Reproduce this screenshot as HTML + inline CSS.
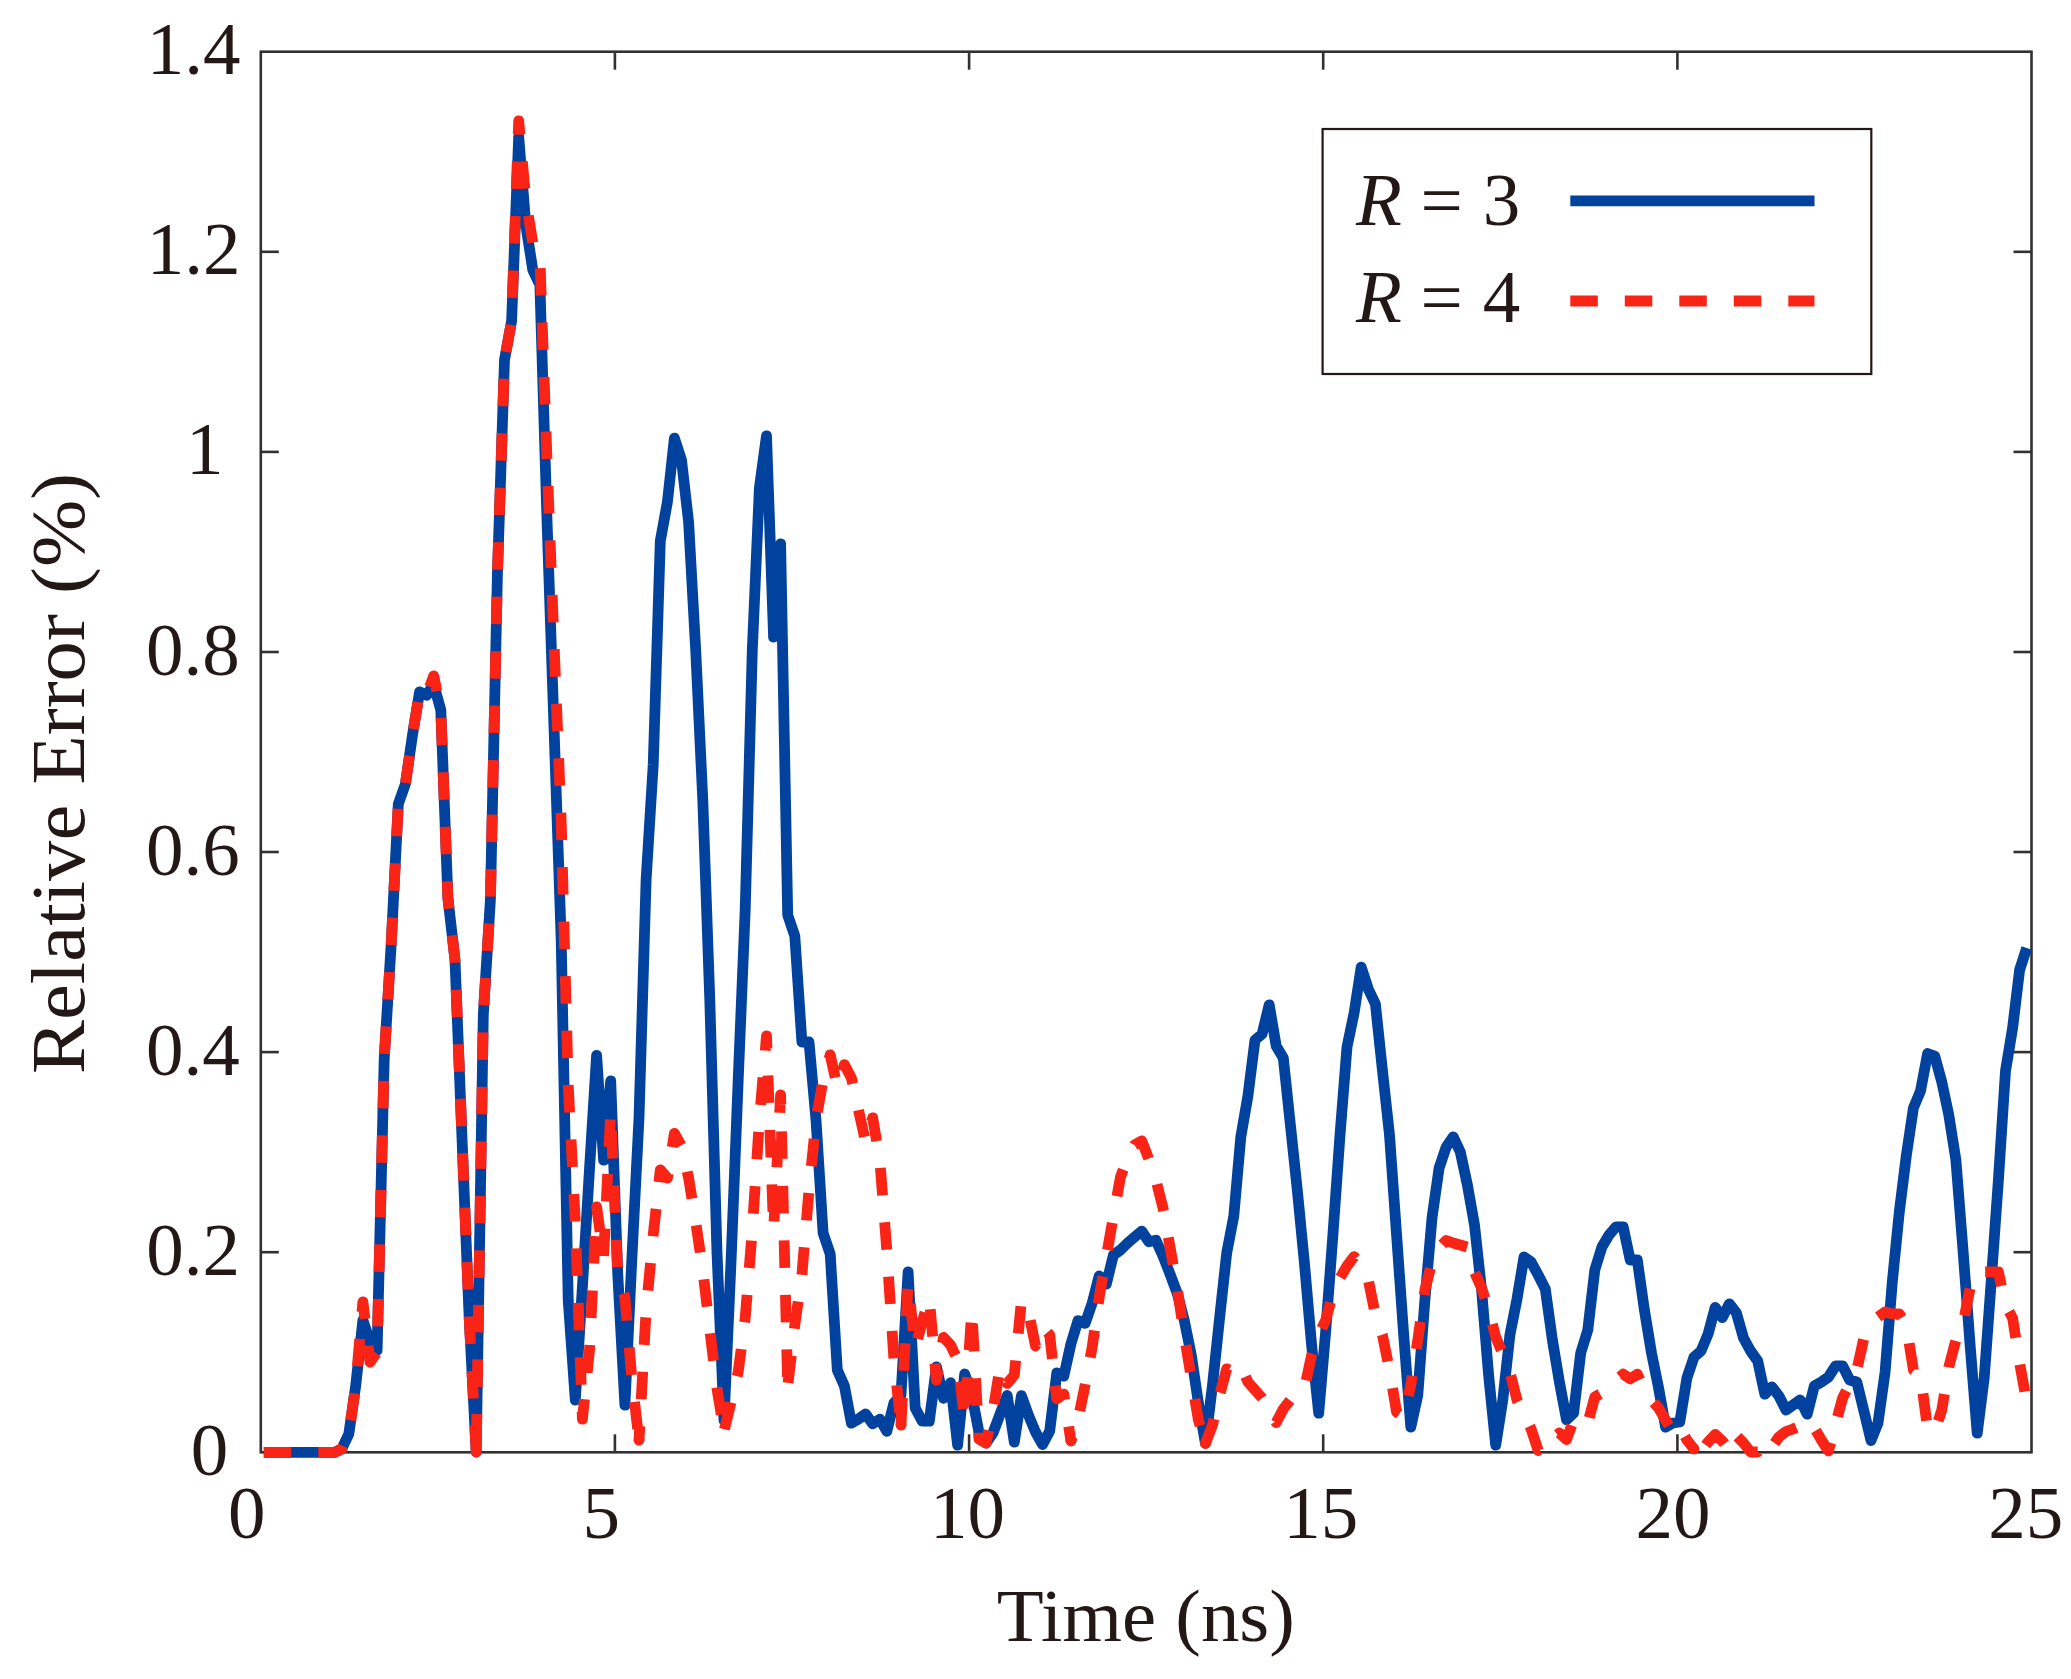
<!DOCTYPE html>
<html><head><meta charset="utf-8"><title>Relative Error vs Time</title>
<style>
html,body{margin:0;padding:0;background:#fff;}
svg{display:block;}
text{font-family:"Liberation Serif","Times New Roman",serif;font-size:75px;fill:#231815;}
.it{font-style:italic;}
</style></head><body>
<svg width="2071" height="1679" viewBox="0 0 2071 1679">
<rect x="0" y="0" width="2071" height="1679" fill="#fff"/>
<g stroke="#333130" stroke-width="2.6" fill="none">
<rect x="260.8" y="51.7" width="1770.7" height="1400.6"/>
<line x1="614.9" y1="1452.3" x2="614.9" y2="1434.3"/>
<line x1="614.9" y1="51.7" x2="614.9" y2="69.7"/>
<line x1="969.1" y1="1452.3" x2="969.1" y2="1434.3"/>
<line x1="969.1" y1="51.7" x2="969.1" y2="69.7"/>
<line x1="1323.2" y1="1452.3" x2="1323.2" y2="1434.3"/>
<line x1="1323.2" y1="51.7" x2="1323.2" y2="69.7"/>
<line x1="1677.4" y1="1452.3" x2="1677.4" y2="1434.3"/>
<line x1="1677.4" y1="51.7" x2="1677.4" y2="69.7"/>
<line x1="260.8" y1="1252.2" x2="278.8" y2="1252.2"/>
<line x1="2031.5" y1="1252.2" x2="2013.5" y2="1252.2"/>
<line x1="260.8" y1="1052.1" x2="278.8" y2="1052.1"/>
<line x1="2031.5" y1="1052.1" x2="2013.5" y2="1052.1"/>
<line x1="260.8" y1="852.0" x2="278.8" y2="852.0"/>
<line x1="2031.5" y1="852.0" x2="2013.5" y2="852.0"/>
<line x1="260.8" y1="652.0" x2="278.8" y2="652.0"/>
<line x1="2031.5" y1="652.0" x2="2013.5" y2="652.0"/>
<line x1="260.8" y1="451.9" x2="278.8" y2="451.9"/>
<line x1="2031.5" y1="451.9" x2="2013.5" y2="451.9"/>
<line x1="260.8" y1="251.8" x2="278.8" y2="251.8"/>
<line x1="2031.5" y1="251.8" x2="2013.5" y2="251.8"/>
</g>
<polyline fill="none" stroke="#00429e" stroke-width="10.8" stroke-linejoin="round" stroke-linecap="butt" points="263.8,1452.3 270.9,1452.3 278.0,1452.3 285.0,1452.3 292.1,1452.3 299.2,1452.3 306.3,1452.3 313.4,1452.3 320.4,1452.3 327.5,1452.3 334.6,1452.3 341.7,1449.0 348.8,1434.0 355.8,1385.0 362.9,1320.2 370.0,1342.0 377.1,1350.4 384.2,1059.0 391.2,944.0 398.3,804.0 405.4,784.0 412.5,735.0 419.6,691.8 426.6,695.2 433.7,684.2 440.8,710.0 447.9,898.0 455.0,960.0 462.0,1138.0 469.1,1316.0 476.2,1452.0 483.3,1015.0 490.4,900.0 497.4,575.0 504.5,360.0 511.6,321.0 518.7,136.8 525.8,225.0 532.8,270.0 539.9,285.0 547.0,520.0 554.1,730.0 561.2,940.0 568.2,1300.0 575.3,1400.2 582.4,1287.0 589.5,1169.0 596.6,1055.3 603.6,1160.2 610.7,1080.8 617.8,1275.0 624.9,1405.2 632.0,1256.0 639.0,1118.0 646.1,880.0 653.2,765.0 660.3,541.0 667.4,502.0 674.4,438.2 681.5,460.0 688.6,522.0 695.7,650.0 702.8,800.0 709.8,1000.0 716.9,1250.0 724.0,1420.2 731.1,1260.0 738.2,1080.0 745.2,910.0 752.3,650.0 759.4,488.0 766.5,435.8 773.6,637.2 780.6,543.8 787.7,915.0 794.8,936.0 801.9,1042.0 809.0,1042.0 816.0,1120.0 823.1,1233.0 830.2,1254.0 837.3,1370.0 844.4,1386.0 851.4,1423.2 858.5,1419.0 865.6,1414.0 872.7,1423.9 879.8,1419.1 886.8,1431.4 893.9,1403.0 901.0,1395.0 908.1,1271.8 915.2,1408.0 922.2,1421.2 929.3,1421.2 936.4,1366.8 943.5,1398.3 950.6,1382.7 957.6,1445.2 964.7,1374.0 971.8,1395.0 978.9,1432.0 986.0,1443.1 993.0,1433.0 1000.1,1414.0 1007.2,1395.5 1014.3,1442.2 1021.4,1395.7 1028.4,1415.0 1035.5,1432.0 1042.6,1444.6 1049.7,1431.0 1056.8,1372.8 1063.8,1376.2 1070.9,1344.0 1078.0,1320.6 1085.1,1323.4 1092.2,1303.0 1099.2,1275.9 1106.3,1284.1 1113.4,1255.0 1120.5,1250.0 1127.6,1243.0 1134.6,1237.0 1141.7,1231.1 1148.8,1241.7 1155.9,1240.3 1163.0,1256.0 1170.0,1274.0 1177.1,1293.0 1184.2,1320.0 1191.3,1355.0 1198.4,1403.0 1205.4,1443.2 1212.5,1385.0 1219.6,1318.0 1226.7,1253.0 1233.8,1216.0 1240.8,1137.0 1247.9,1096.0 1255.0,1040.0 1262.1,1034.0 1269.2,1004.8 1276.2,1046.0 1283.3,1058.0 1290.4,1125.0 1297.5,1192.0 1304.6,1265.0 1311.6,1345.0 1318.7,1413.2 1325.8,1330.0 1332.9,1235.0 1340.0,1135.0 1347.0,1047.0 1354.1,1013.0 1361.2,967.2 1368.3,989.0 1375.4,1004.0 1382.4,1070.0 1389.5,1135.0 1396.6,1235.0 1403.7,1335.0 1410.8,1427.2 1417.8,1395.0 1424.9,1300.0 1432.0,1218.0 1439.1,1168.0 1446.2,1147.0 1453.2,1136.9 1460.3,1152.0 1467.4,1185.0 1474.5,1225.0 1481.6,1290.0 1488.6,1375.0 1495.7,1445.2 1502.8,1400.0 1509.9,1335.0 1517.0,1299.0 1524.0,1257.0 1531.1,1262.0 1538.2,1275.0 1545.3,1289.0 1552.4,1340.0 1559.4,1382.0 1566.5,1419.7 1573.6,1413.0 1580.7,1353.0 1587.8,1330.0 1594.8,1270.0 1601.9,1247.0 1609.0,1235.0 1616.1,1226.8 1623.2,1226.8 1630.2,1260.0 1637.3,1260.0 1644.4,1310.0 1651.5,1353.0 1658.6,1388.0 1665.6,1427.2 1672.7,1423.0 1679.8,1422.0 1686.9,1378.0 1694.0,1357.0 1701.0,1351.0 1708.1,1334.0 1715.2,1307.4 1722.3,1317.6 1729.4,1303.8 1736.4,1313.0 1743.5,1338.0 1750.6,1351.0 1757.7,1361.0 1764.8,1394.2 1771.8,1386.8 1778.9,1396.0 1786.0,1410.0 1793.1,1405.0 1800.2,1400.0 1807.2,1414.1 1814.3,1386.0 1821.4,1382.0 1828.5,1377.0 1835.6,1365.8 1842.6,1365.8 1849.7,1380.0 1856.8,1382.0 1863.9,1411.0 1871.0,1440.6 1878.0,1423.0 1885.1,1372.0 1892.2,1283.0 1899.3,1212.0 1906.4,1155.0 1913.4,1108.0 1920.5,1091.0 1927.6,1053.5 1934.7,1056.0 1941.8,1082.0 1948.8,1115.0 1955.9,1160.0 1963.0,1250.0 1970.1,1345.0 1977.2,1433.2 1984.2,1378.0 1991.3,1280.0 1998.4,1180.0 2005.5,1071.0 2012.6,1028.0 2019.6,970.0 2026.7,948.0"/>
<polyline fill="none" stroke="#fa2416" stroke-width="10.8" stroke-linejoin="round" stroke-linecap="butt" stroke-dasharray="27.5 27" stroke-dashoffset="0.0" points="263.8,1452.3 270.9,1452.3 278.0,1452.3 285.0,1452.3 292.1,1452.3 299.2,1452.3 306.3,1452.3 313.4,1452.3 320.4,1452.3 327.5,1452.3 334.6,1452.3 341.7,1449.0 348.8,1434.0 355.8,1385.0 362.9,1301.8 370.0,1362.1 377.1,1352.0 384.2,1059.0 391.2,944.0 398.3,804.0 405.4,784.0 412.5,735.0 419.6,691.8 426.6,695.2 433.7,675.8 440.8,710.0 447.9,898.0 455.0,960.0 462.0,1138.0 469.1,1316.0 476.2,1452.0"/>
<circle cx="476.2" cy="1452.0" r="5.4" fill="#fa2416"/>
<polyline fill="none" stroke="#fa2416" stroke-width="10.8" stroke-linejoin="round" stroke-linecap="butt" stroke-dasharray="27.5 27" stroke-dashoffset="43.8" points="476.2,1452.0 483.3,1015.0 490.4,900.0 497.4,575.0 504.5,360.0 511.6,321.0 518.7,120.8 525.8,200.0 532.8,243.0 539.9,258.0 547.0,460.0 554.1,645.0 561.2,822.0 568.2,1085.0 575.3,1222.0 582.4,1419.2 589.5,1350.0 596.6,1206.8 603.6,1257.2 610.7,1111.8 617.8,1275.0 624.9,1297.0 632.0,1380.0 639.0,1440.2"/>
<circle cx="639.0" cy="1440.2" r="5.4" fill="#fa2416"/>
<polyline fill="none" stroke="#fa2416" stroke-width="10.8" stroke-linejoin="round" stroke-linecap="butt" stroke-dasharray="27.5 27" stroke-dashoffset="13.5" points="639.0,1440.2 646.1,1310.0 653.2,1235.0 660.3,1169.9 667.4,1178.1 674.4,1133.4 681.5,1146.0 688.6,1178.0 695.7,1222.0 702.8,1270.0 709.8,1330.0 716.9,1388.0 724.0,1431.2"/>
<polyline fill="none" stroke="#fa2416" stroke-width="10.8" stroke-linejoin="round" stroke-linecap="butt" stroke-dasharray="27.5 27" stroke-dashoffset="52.5" points="724.0,1431.2 731.1,1402.0 738.2,1372.0 745.2,1318.0 752.3,1230.0 759.4,1120.0 766.5,1035.8 773.6,1230.2 780.6,1094.8 787.7,1386.2"/>
<polyline fill="none" stroke="#fa2416" stroke-width="10.8" stroke-linejoin="round" stroke-linecap="butt" stroke-dasharray="27.5 27" stroke-dashoffset="51.1" points="787.7,1386.2 794.8,1325.0 801.9,1275.0 809.0,1190.0 816.0,1120.0 823.1,1080.0 830.2,1054.8 837.3,1087.2 844.4,1064.6 851.4,1078.0 858.5,1110.0 865.6,1142.2 872.7,1117.8 879.8,1160.0 886.8,1250.0 893.9,1359.0 901.0,1425.2"/>
<circle cx="901.0" cy="1425.2" r="5.4" fill="#fa2416"/>
<polyline fill="none" stroke="#fa2416" stroke-width="10.8" stroke-linejoin="round" stroke-linecap="butt" stroke-dasharray="27.5 27" stroke-dashoffset="0.0" points="901.0,1425.2 908.1,1282.8 915.2,1348.2 922.2,1322.0 929.3,1297.6 936.4,1380.2 943.5,1337.4 950.6,1345.0 957.6,1360.0 964.7,1420.2 971.8,1309.8 978.9,1439.0 986.0,1443.2 993.0,1411.0 1000.1,1366.5 1007.2,1383.4 1014.3,1375.0 1021.4,1300.9 1028.4,1311.0 1035.5,1346.0 1042.6,1326.6 1049.7,1335.0 1056.8,1398.9 1063.8,1394.1 1070.9,1441.0"/>
<circle cx="1070.9" cy="1441.0" r="5.4" fill="#fa2416"/>
<polyline fill="none" stroke="#fa2416" stroke-width="10.8" stroke-linejoin="round" stroke-linecap="butt" stroke-dasharray="27.5 27" stroke-dashoffset="23.2" points="1070.9,1441.0 1078.0,1420.0 1085.1,1385.0 1092.2,1347.0 1099.2,1297.0 1106.3,1257.0 1113.4,1216.0 1120.5,1177.0 1127.6,1158.0 1134.6,1145.0 1141.7,1140.8 1148.8,1159.0 1155.9,1180.0 1163.0,1208.0 1170.0,1247.0 1177.1,1287.0 1184.2,1335.0 1191.3,1378.0 1198.4,1420.0 1205.4,1443.5"/>
<circle cx="1205.4" cy="1443.5" r="5.4" fill="#fa2416"/>
<polyline fill="none" stroke="#fa2416" stroke-width="10.8" stroke-linejoin="round" stroke-linecap="butt" stroke-dasharray="27.5 27" stroke-dashoffset="1.5" points="1205.4,1443.5 1212.5,1425.0 1219.6,1395.0 1226.7,1368.8 1233.8,1372.2 1240.8,1365.4 1247.9,1382.0 1255.0,1390.0 1262.1,1398.0 1269.2,1410.0 1276.2,1422.6 1283.3,1409.0 1290.4,1400.0 1297.5,1393.0 1304.6,1388.0 1311.6,1355.0 1318.7,1335.0 1325.8,1320.0 1332.9,1293.0 1340.0,1278.0 1347.0,1266.0 1354.1,1256.6 1361.2,1265.0 1368.3,1280.0 1375.4,1315.0 1382.4,1335.0 1389.5,1370.0 1396.6,1412.0 1403.7,1417.0 1410.8,1385.0"/>
<circle cx="1410.8" cy="1385.0" r="5.4" fill="#fa2416"/>
<polyline fill="none" stroke="#fa2416" stroke-width="10.8" stroke-linejoin="round" stroke-linecap="butt" stroke-dasharray="27.5 27" stroke-dashoffset="18.1" points="1410.8,1385.0 1417.8,1340.0 1424.9,1290.0 1432.0,1262.0 1439.1,1248.0 1446.2,1240.5 1453.2,1243.0 1460.3,1245.0 1467.4,1247.0 1474.5,1272.0 1481.6,1288.0 1488.6,1310.0 1495.7,1337.0 1502.8,1354.0 1509.9,1372.0 1517.0,1400.0 1524.0,1414.0 1531.1,1429.0 1538.2,1450.5 1545.3,1448.0"/>
<polyline fill="none" stroke="#fa2416" stroke-width="10.8" stroke-linejoin="round" stroke-linecap="butt" stroke-dasharray="27.5 27" stroke-dashoffset="36.3" points="1545.3,1448.0 1552.4,1438.0 1559.4,1433.0 1566.5,1439.6 1573.6,1420.0 1580.7,1418.3 1587.8,1423.0 1594.8,1397.0 1601.9,1393.0 1609.0,1390.0 1616.1,1380.0 1623.2,1374.1 1630.2,1378.9 1637.3,1374.1 1644.4,1390.0 1651.5,1400.0 1658.6,1408.0 1665.6,1420.0 1672.7,1432.0 1679.8,1427.0 1686.9,1440.0 1694.0,1449.0"/>
<circle cx="1694.0" cy="1449.0" r="5.4" fill="#fa2416"/>
<polyline fill="none" stroke="#fa2416" stroke-width="10.8" stroke-linejoin="round" stroke-linecap="butt" stroke-dasharray="27.5 27" stroke-dashoffset="38.5" points="1694.0,1449.0 1701.0,1452.0 1708.1,1442.0 1715.2,1434.5 1722.3,1441.0 1729.4,1451.0 1736.4,1435.6 1743.5,1443.0 1750.6,1452.0 1757.7,1452.0 1764.8,1441.0 1771.8,1447.0 1778.9,1437.0 1786.0,1431.5 1793.1,1429.0 1800.2,1425.8 1807.2,1420.0 1814.3,1428.0 1821.4,1440.0 1828.5,1451.0"/>
<circle cx="1828.5" cy="1451.0" r="5.4" fill="#fa2416"/>
<polyline fill="none" stroke="#fa2416" stroke-width="10.8" stroke-linejoin="round" stroke-linecap="butt" stroke-dasharray="27.5 27" stroke-dashoffset="19.0" points="1828.5,1451.0 1835.6,1424.0 1842.6,1398.0 1849.7,1384.0 1856.8,1370.0 1863.9,1338.0 1871.0,1328.0 1878.0,1317.0 1885.1,1312.0 1892.2,1313.8 1899.3,1313.8 1906.4,1326.0 1913.4,1370.0 1920.5,1375.0 1927.6,1429.0 1934.7,1431.5 1941.8,1410.0 1948.8,1367.0 1955.9,1340.0 1963.0,1324.0 1970.1,1288.0 1977.2,1271.0 1984.2,1271.8 1991.3,1271.8 1998.4,1272.0 2005.5,1305.0 2012.6,1318.0 2019.6,1363.0 2026.7,1402.0"/>
<g>
<text x="228.3" y="1474.8" text-anchor="end">0</text>
<text x="239.9" y="1274.7" text-anchor="end">0.2</text>
<text x="239.8" y="1074.6" text-anchor="end">0.4</text>
<text x="239.8" y="874.5" text-anchor="end">0.6</text>
<text x="239.8" y="674.5" text-anchor="end">0.8</text>
<text x="223.5" y="474.4" text-anchor="end">1</text>
<text x="240.4" y="274.3" text-anchor="end">1.2</text>
<text x="240.4" y="74.2" text-anchor="end">1.4</text>
<text x="246.8" y="1538.3" text-anchor="middle">0</text>
<text x="601.2" y="1538.3" text-anchor="middle">5</text>
<text x="967.6" y="1538.3" text-anchor="middle">10</text>
<text x="1320.8" y="1538.3" text-anchor="middle">15</text>
<text x="1673.0" y="1538.3" text-anchor="middle">20</text>
<text x="2025.8" y="1538.3" text-anchor="middle">25</text>
<text x="1145.8" y="1641" text-anchor="middle" textLength="298" lengthAdjust="spacingAndGlyphs">Time (ns)</text>
<text transform="translate(84.4,773.4) rotate(-90)" text-anchor="middle" textLength="601" lengthAdjust="spacingAndGlyphs" style="font-size:76px">Relative Error (%)</text>
</g>
<g>
<rect x="1322.6" y="129" width="548.7" height="245" fill="#fff" stroke="#231815" stroke-width="2.2"/>
<text x="1356" y="225.2"><tspan class="it">R</tspan> = <tspan dx="1.2">3</tspan></text>
<text x="1356" y="322"><tspan class="it">R</tspan> = <tspan dx="1.2">4</tspan></text>
<line x1="1570.3" y1="200.8" x2="1814.5" y2="200.8" stroke="#00429e" stroke-width="10.8"/>
<line x1="1570.3" y1="301" x2="1814.5" y2="301" stroke="#fa2416" stroke-width="10.8" stroke-dasharray="27.5 27"/>
</g>
</svg>
</body></html>
